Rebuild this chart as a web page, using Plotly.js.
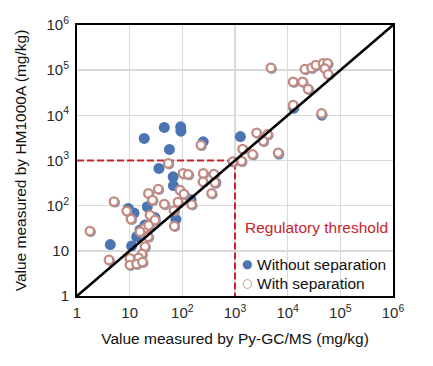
<!DOCTYPE html>
<html><head><meta charset="utf-8">
<script src="https://cdn.plot.ly/plotly-3.0.1.min.js"></script>
<style>html,body{margin:0;padding:0;background:#fff}</style>
</head><body><div id="chart" style="width:433px;height:366px"></div>
<script>
// Without separation (filled blue)
const withoutX = [18.9, 45.4, 92.9, 94, 56.9, 249, 1265, 36, 67, 67.8, 146, 21.6, 9.4, 12.1, 30.2, 75.6, 19.5, 15.7, 13.6, 10.9, 4.28, 434, 13100, 6810, 44600];
const withoutY = [3080, 5400, 5570, 4470, 1760, 2590, 3380, 668, 436, 278, 136, 94.6, 87, 68.6, 54.6, 49.8, 37.2, 28.8, 20.5, 12.8, 13.8, 316, 14400, 1390, 10100];
// With separation (open circles)
const withX = [4800, 21200, 28400, 34300, 47200, 57200, 50800, 58700, 12700, 19200, 24500, 12700, 44000, 2570, 4160, 3430, 1390, 2160, 1330, 6600, 912, 225, 54, 103, 129, 249, 398, 246, 415, 90, 107, 360, 34.9, 22.7, 27.1, 150, 45.4, 5.04, 82.5, 69.3, 8.77, 10.6, 24.3, 30.2, 70.2, 19.5, 22.9, 15.7, 22.5, 19.5, 1.76, 17.1, 10.1, 14.8, 4.05, 10.1, 13.5, 17.5];
const withY = [112000, 105000, 112000, 129000, 141000, 141000, 109000, 80300, 55100, 55100, 38000, 16800, 11000, 4100, 3780, 2690, 1790, 1360, 970, 1480, 946, 2190, 863, 518, 493, 518, 500, 338, 324, 221, 181, 187, 233, 187, 133, 106, 108, 123, 120, 78, 76, 50.5, 62, 48, 35.4, 31.9, 36.7, 26.5, 20.5, 12.4, 27.4, 8.5, 6.8, 7.0, 6.3, 4.85, 5.1, 5.65];
// Reference lines
const identityX = [1, 1000000];
const identityY = [1, 1000000];
const threshold = 1000;
const thresholdX = [1, threshold, threshold];
const thresholdY = [threshold, threshold, 1];
// Tick labels
const tickVals = [1, 10, 100, 1000, 10000, 100000, 1000000];
const tickText = ['1', '10', '10<sup>2</sup>', '10<sup>3</sup>', '10<sup>4</sup>', '10<sup>5</sup>', '10<sup>6</sup>'];
// Legend / label texts
const seriesNames = ['Without separation', 'With separation'];
const thresholdLabel = 'Regulatory threshold';

const blue = '#4a74b2';
const rose = '#c38a81';
const red = '#c9242b';
const FONT = 'Liberation Sans, Arial, Helvetica, sans-serif';

const traces = [
  {x: thresholdX, y: thresholdY, mode: 'lines', line: {color: red, width: 2, dash: '7px,3px'}, showlegend: false, hoverinfo: 'skip'},
  {x: withoutX, y: withoutY, mode: 'markers', name: seriesNames[0], showlegend: false,
   marker: {color: blue, size: 11, line: {width: 0}}},
  {x: withX, y: withY, mode: 'markers', xaxis: 'x2', yaxis: 'y2', showlegend: false, hoverinfo: 'skip',
   marker: {color: '#8798bb', size: 10, line: {width: 0}}},
  {x: withX, y: withY, mode: 'markers', xaxis: 'x3', yaxis: 'y3', name: seriesNames[1], showlegend: false,
   marker: {color: '#ffffff', size: 8.5, line: {width: 2.3, color: rose}}},
  {x: identityX, y: identityY, mode: 'lines', xaxis: 'x3', yaxis: 'y3', showlegend: false, hoverinfo: 'skip',
   line: {color: '#000', width: 2.5}}
];

const baseAxis = {
  type: 'log', range: [0, 6], tickvals: tickVals, ticktext: tickText,
  showgrid: true, gridcolor: '#dadada', gridwidth: 1.6,
  showline: true, linecolor: '#000', linewidth: 2, mirror: true,
  ticks: '', zeroline: false,
  tickfont: {size: 15, color: '#2a2a2a', family: FONT}
};
const dx = 1 / 52.7, dy = 1 / 45.2;
const hidden = {type: 'log', visible: false, showticklabels: false, showgrid: false, zeroline: false};

const layout = {
  width: 433, height: 366,
  margin: {l: 77, r: 40, t: 25, b: 70},
  paper_bgcolor: '#fff', plot_bgcolor: '#fff',
  font: {family: FONT, size: 15, color: '#111'},
  xaxis: Object.assign({}, baseAxis, {
    ticklabelstandoff: 2,
    title: {text: 'Value measured by Py-GC/MS (mg/kg)', font: {size: 15.5, color: '#111'}, standoff: 13}
  }),
  yaxis: Object.assign({}, baseAxis, {
    ticklabelstandoff: 3,
    title: {text: 'Value measured by HM1000A (mg/kg)', font: {size: 15.5, color: '#111'}, standoff: 16}
  }),
  xaxis2: Object.assign({}, hidden, {range: [0 - dx, 6 - dx], overlaying: 'x'}),
  yaxis2: Object.assign({}, hidden, {range: [0 + dy, 6 + dy], overlaying: 'y'}),
  xaxis3: Object.assign({}, hidden, {range: [0, 6], overlaying: 'x'}),
  yaxis3: Object.assign({}, hidden, {range: [0, 6], overlaying: 'y'}),
  showlegend: false,
  annotations: [
    {xref: 'paper', yref: 'paper', x: 0.526, y: 0.251, xanchor: 'left', yanchor: 'middle',
     text: thresholdLabel, showarrow: false, font: {size: 15.5, color: red}},
    {xref: 'paper', yref: 'paper', x: 0.537, y: 0.118, xanchor: 'center', yanchor: 'middle',
     text: '●', showarrow: false, font: {size: 12, color: blue, family: 'DejaVu Sans'}},
    {xref: 'paper', yref: 'paper', x: 0.563, y: 0.118, xanchor: 'left', yanchor: 'middle',
     text: seriesNames[0], showarrow: false, font: {size: 15.5, color: '#111'}},
    {xref: 'paper', yref: 'paper', x: 0.537, y: 0.047, xanchor: 'center', yanchor: 'middle',
     text: '○', showarrow: false, font: {size: 12, color: rose, family: 'DejaVu Sans', weight: 'bold'}},
    {xref: 'paper', yref: 'paper', x: 0.563, y: 0.047, xanchor: 'left', yanchor: 'middle',
     text: seriesNames[1], showarrow: false, font: {size: 15.5, color: '#111'}}
  ]
};

Plotly.newPlot('chart', traces, layout, {displayModeBar: false, staticPlot: true});
</script></body></html>
